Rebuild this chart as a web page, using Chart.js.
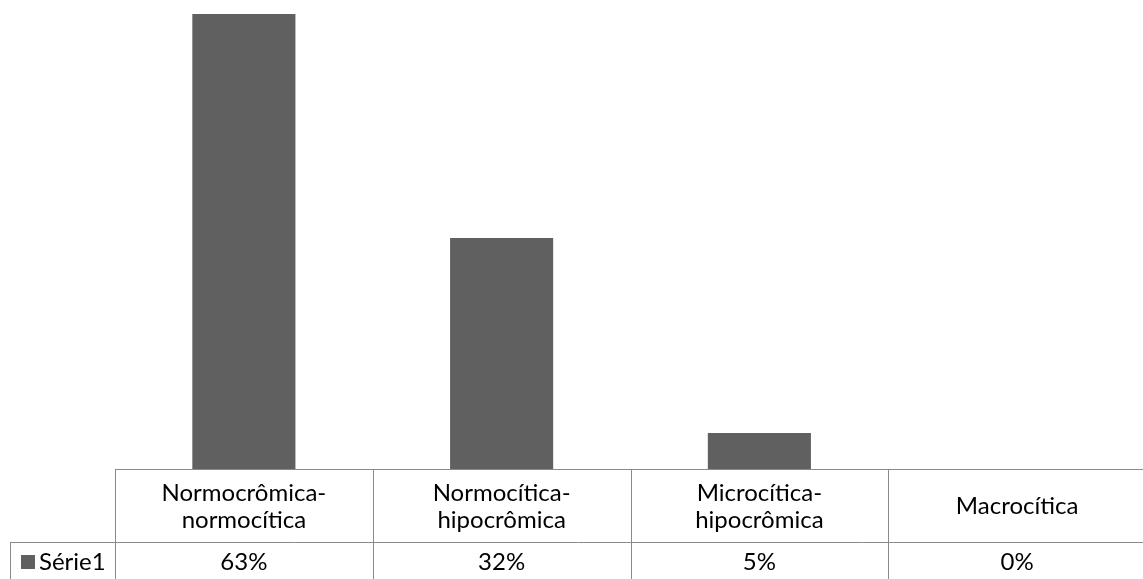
<!DOCTYPE html>
<html>
<head>
<meta charset="utf-8">
<script src="https://cdn.jsdelivr.net/npm/chart.js@4/dist/chart.umd.min.js"></script>
<style>
  html, body { margin: 0; padding: 0; background: #ffffff; overflow: hidden; }
  #wrap { width: 1147px; height: 579px; position: relative; }
</style>
</head>
<body>
<div id="wrap"><canvas id="c" width="1147" height="579"></canvas></div>
<script>
// Anemia classification share (Série1), in percent
const categories = [
  ['Normocrômica-', 'normocítica'],
  ['Normocítica-', 'hipocrômica'],
  ['Microcítica-', 'hipocrômica'],
  ['Macrocítica']
];
const seriesName = 'Série1';
const values = [63, 32, 5, 0];
const valueLabels = values.map(v => v + '%');

const BAR = '#606060';
const RULE = '#8a8a8a';
const FONT = '24px Lato, "Open Sans", sans-serif';

// Data table drawn under the plot, aligned on the category scale
const dataTable = {
  id: 'dataTable',
  afterDraw(chart) {
    const { ctx, chartArea, scales } = chart;
    const x = scales.x;
    const n = categories.length;
    const half = (x.getPixelForValue(1) - x.getPixelForValue(0)) / 2;
    const top = chartArea.bottom;
    const mid = top + 73;
    const bottom = chart.height + 2;
    const legendLeft = 10;

    ctx.save();
    ctx.strokeStyle = RULE;
    ctx.lineWidth = 1;
    ctx.beginPath();
    // header rule
    ctx.moveTo(chartArea.left, top + 0.5);
    ctx.lineTo(chart.width, top + 0.5);
    // rule between category row and value row
    ctx.moveTo(legendLeft, mid + 0.5);
    ctx.lineTo(chart.width, mid + 0.5);
    // legend column left edge
    ctx.moveTo(legendLeft + 0.5, mid);
    ctx.lineTo(legendLeft + 0.5, bottom);
    // column separators
    for (let i = 0; i <= n; i++) {
      const px = Math.round(x.getPixelForValue(i) - half) + 0.5;
      ctx.moveTo(px, top);
      ctx.lineTo(px, bottom);
    }
    ctx.stroke();

    ctx.fillStyle = '#000000';
    ctx.font = FONT;
    ctx.textAlign = 'center';
    ctx.textBaseline = 'middle';
    const rowCenter = (top + mid) / 2 + 1;
    const lineH = 27;
    categories.forEach((lines, i) => {
      const cx = x.getPixelForValue(i);
      const y0 = rowCenter - (lines.length - 1) * lineH / 2;
      lines.forEach((t, k) => ctx.fillText(t, cx, y0 + k * lineH));
    });
    const valY = mid + 20;
    valueLabels.forEach((t, i) => ctx.fillText(t, x.getPixelForValue(i), valY));

    // legend key and series name
    ctx.fillStyle = BAR;
    ctx.fillRect(21, valY - 7, 14, 14);
    ctx.fillStyle = '#000000';
    ctx.textAlign = 'left';
    ctx.fillText(seriesName, 39, valY);
    ctx.restore();
  }
};

new Chart(document.getElementById('c'), {
  type: 'bar',
  data: {
    labels: categories,
    datasets: [{
      label: seriesName,
      data: values,
      backgroundColor: BAR,
      borderWidth: 0,
      barPercentage: 0.4,
      categoryPercentage: 1.0
    }]
  },
  options: {
    responsive: false,
    animation: false,
    layout: { padding: { left: 115, right: 1, top: 14, bottom: 110 } },
    plugins: { legend: { display: false }, tooltip: { enabled: false } },
    scales: {
      x: { display: false, grid: { display: false } },
      y: { display: false, min: 0, max: 63, grid: { display: false } }
    }
  },
  plugins: [dataTable]
});
</script>
</body>
</html>
